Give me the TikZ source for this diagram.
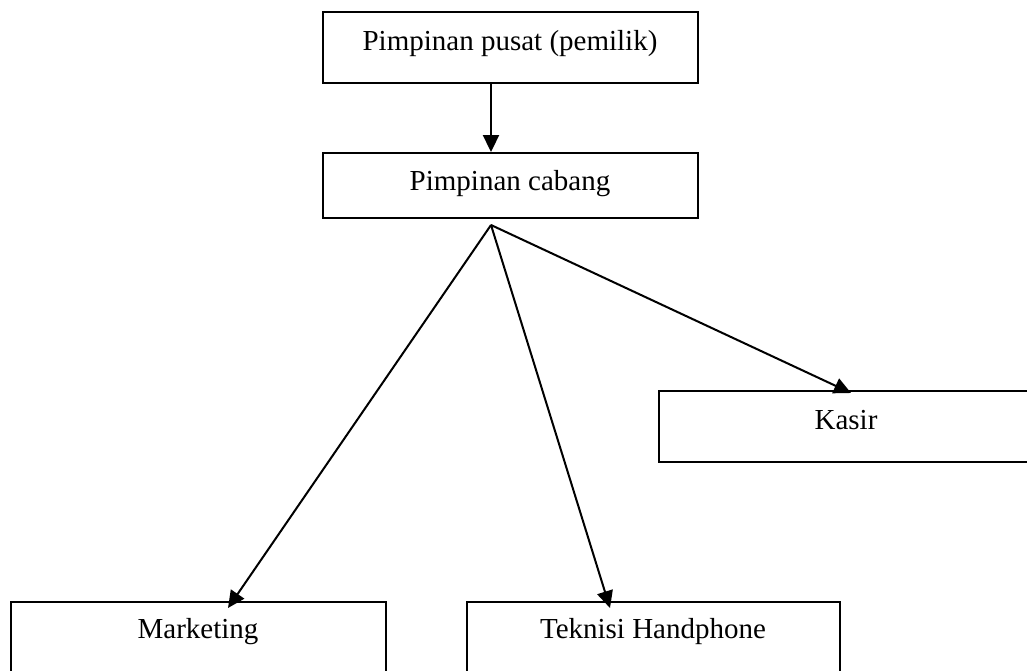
\documentclass[tikz,border=0pt]{standalone}
\usepackage{fontspec}
\setmainfont{Liberation Serif}
\usetikzlibrary{arrows.meta}
\begin{document}
\begin{tikzpicture}[x=1pt,y=-1pt,
  box/.style={draw,line width=1.9pt,inner sep=0pt,rectangle},
  lbl/.style={inner sep=0pt,font=\fontsize{29}{34}\selectfont},
  arr/.style={line width=2pt,-{Triangle[length=17pt,width=16pt]}}]
\useasboundingbox (0,0) rectangle (1027,671);
\clip (0,0) rectangle (1027,671);
\node[box,minimum width=375pt,minimum height=71pt] (top) at (510.5,47.5) {};
\node[lbl] (toptxt) at (510,44) {Pimpinan pusat (pemilik)};
\node[box,minimum width=375pt,minimum height=65pt] (cab) at (510.5,185.5) {};
\node[lbl] (cabtxt) at (510,184) {Pimpinan cabang};
\node[box,minimum width=374pt,minimum height=71pt] (kas) at (846,426.5) {};
\node[lbl] (kastxt) at (846,420) {Kasir};
\node[box,minimum width=375pt,minimum height=72pt] (mkt) at (198.5,638) {};
\node[lbl] (mkttxt) at (198,632) {Marketing};
\node[box,minimum width=373pt,minimum height=72pt] (tek) at (653.5,638) {};
\node[lbl] (tektxt) at (653,632) {Teknisi Handphone};
\coordinate (fan) at (491,225);
\coordinate (mtip) at (228,608);
\coordinate (ttip) at (610,608);
\coordinate (ktip) at (851,393);
\draw[arr] (top.south -| fan) -- (cab.north -| fan);
\draw[arr] (fan) -- (mtip);
\draw[arr] (fan) -- (ttip);
\draw[arr] (fan) -- (ktip);
\end{tikzpicture}
\end{document}
